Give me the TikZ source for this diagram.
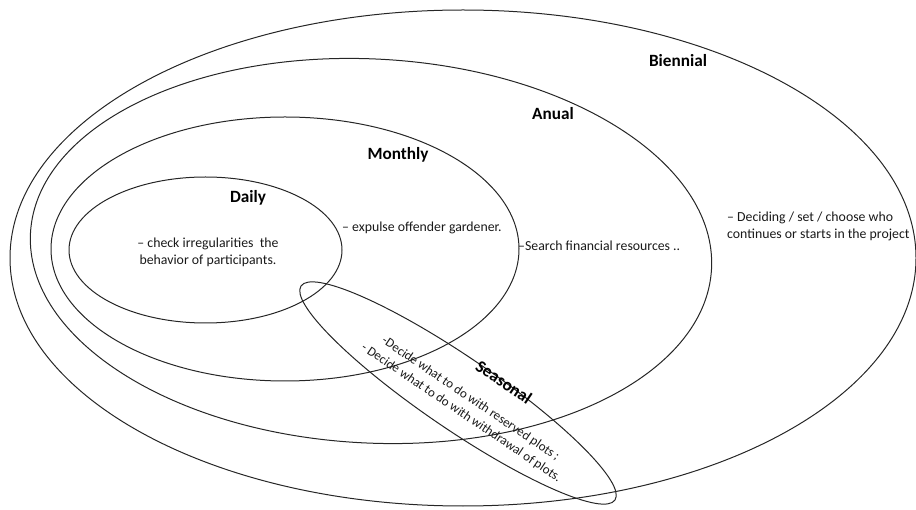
\documentclass[tikz,border=0pt]{standalone}
\usepackage{fontspec}
\setmainfont{Carlito}
\begin{document}
\begin{tikzpicture}[x=1pt,y=1pt,
  ring/.style={draw=black!85, line width=1pt},
  title/.style={font=\fontsize{17.2}{20}\selectfont\bfseries, inner sep=0pt},
  note/.style={font=\fontsize{13.8}{17}\selectfont, inner sep=0pt, text=black!90},
  slanted/.style={font=\fontsize{13}{17}\selectfont, inner sep=0pt, text=black!90}]
\useasboundingbox (0,0) rectangle (916,509);

% nested planning horizons
\draw[ring] (463,251) ellipse [x radius=453, y radius=248];
\draw[ring, rotate around={-3:(371,258)}] (371,258) ellipse [x radius=341, y radius=192];
\draw[ring] (285,260) ellipse [x radius=234, y radius=132];
\draw[ring] (205.5,259) ellipse [x radius=136.5, y radius=73];
% seasonal tasks cut across the others
\draw[ring, rotate around={-34.3:(458,116)}] (458,116) ellipse [x radius=190, y radius=36];

% horizon titles
\node[title] (biennial) at (678,448) {Biennial};
\node[title] (anual)    at (553,395) {Anual};
\node[title] (monthly)  at (398,354) {Monthly};
\node[title] (daily)    at (248,311) {Daily};
\node[title, rotate=-34] (seasonal) at (504,127) {Seasonal};

% tasks
\node[note, align=center] (tdaily) at (208,257)
  {– check irregularities\ \ the\\behavior of participants.};
\node[note, anchor=west] (tmonthly) at (342,281) {– expulse offender gardener.};
\node[note, anchor=west] (tanual) at (518,263) {–Search financial resources ..};
\node[note, anchor=west, align=left] (tbiennial) at (727,283)
  {– Deciding / set / choose who\\continues or starts in the project};
\node[slanted, align=center, rotate=-34] (tseasonal) at (466,103)
  {-Decide what to do with reserved plots ;\\- Decide what to do with withdrawal of plots.};
\end{tikzpicture}
\end{document}
